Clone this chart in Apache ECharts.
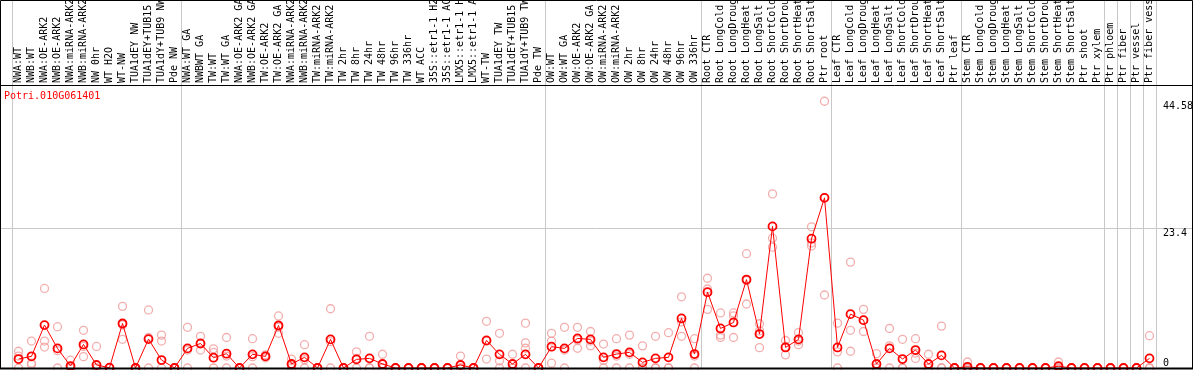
<!DOCTYPE html>
<html><head><meta charset="utf-8">
<script src="https://cdn.jsdelivr.net/npm/echarts@6/dist/echarts.min.js"></script>
<style>html,body{margin:0;padding:0;background:#fff}#c{width:1194px;height:370px}</style>
</head><body><div id="c"></div><script>
const categories = [
 'NWA:WT','NWB:WT','NWA:OE-ARK2','NWB:OE-ARK2','NWA:miRNA-ARK2','NWB:miRNA-ARK2','NW 0hr','WT H2O','WT-NW','TUA1dEY NW','TUA1dEY+TUB15 NW','TUA1dY+TUB9 NW','Pde NW',
 'NWA:WT GA','NWBWT GA','TW:WT','TW:WT GA','NWA:OE-ARK2 GA','NWB:OE-ARK2 GA','TW:OE-ARK2','TW:OE-ARK2 GA','NWA:miRNA-ARK2 GA','NWB:miRNA-ARK2 GA','TW:miRNA-ARK2','TW:miRNA-ARK2 GA','TW 2hr','TW 8hr','TW 24hr','TW 48hr','TW 96hr','TW 336hr','WT ACC','35S::etr1-1 H2O','35S::etr1-1 ACC','LMX5::etr1-1 H2O','LMX5::etr1-1 ACC','WT-TW','TUA1dEY TW','TUA1dEY+TUB15 TW','TUA1dY+TUB9 TW','Pde TW',
 'OW:WT','OW:WT GA','OW:OE-ARK2','OW:OE-ARK2 GA','OW:miRNA-ARK2','OW:miRNA-ARK2 GA','OW 2hr','OW 8hr','OW 24hr','OW 48hr','OW 96hr','OW 336hr',
 'Root CTR','Root LongCold','Root LongDrought','Root LongHeat','Root LongSalt','Root ShortCold','Root ShortDrought','Root ShortHeat','Root ShortSalt','Ptr root',
 'Leaf CTR','Leaf LongCold','Leaf LongDrought','Leaf LongHeat','Leaf LongSalt','Leaf ShortCold','Leaf ShortDrought','Leaf ShortHeat','Leaf ShortSalt','Ptr leaf',
 'Stem CTR','Stem LongCold','Stem LongDrought','Stem LongHeat','Stem LongSalt','Stem ShortCold','Stem ShortDrought','Stem ShortHeat','Stem ShortSalt','Ptr shoot',
 'Ptr xylem','Ptr phloem','Ptr fiber','Ptr vessel','Ptr fiber vessel'
];
const means = [
 1.5,1.95,7.17,3.28,0.33,3.94,0.5,0.05,7.44,0,4.83,1.33,0,
 3.28,4.1,1.72,2.39,0,2.28,1.94,7.1,0.67,1.78,0,4.78,0,1.44,1.61,0.67,0,0,0,0,0,0.5,0,4.61,2.28,0.67,2.28,0,
 3.56,3.28,4.94,4.78,1.78,2.33,2.61,0.94,1.61,1.78,8.28,2.33,
 12.67,6.61,7.61,14.78,5.67,23.67,3.44,4.78,21.61,28.44,
 3.44,9.0,8.0,0.67,3.28,1.5,3.0,0.67,2.11,0,
 0.2,0,0,0,0,0,0,0.3,0,0,
 0,0,0,0,1.61
];
const replicates = [
 [2.8,2.0,0],[4.5,0.8,0.6],[13.3,4.5,3.5],[6.9,2.9,0],[1.3,0,0],[6.3,3.6,1.9],[3.6,0,0],[0,0,0],[10.3,7.2,4.8],[0,0,0],[9.7,5.1,0],[5.5,4.5,0],[0,0,0],
 [6.8,3.0,0],[5.3,4.0,3.0],[3.2,2.6,0],[5.1,2.0,0],[0,0,0],[4.9,1.9,0],[2.2,2.0,1.7],[8.7,6.8,5.8],[1.5,0.5,0],[3.9,1.4,0],[0,0,0],[9.9,4.4,0],[0,0,0],[2.7,1.6,0],[5.3,0,0],[2.3,0,0],[0,0,0],[0,0,0],[0,0,0],[0,0,0],[0,0,0],[2.0,0,0],[0,0,0],[7.8,4.5,1.5],[5.8,1.2,0],[2.3,0,0],[7.5,4.2,3.3,0],[0,0,0],
 [5.8,4.5,0.8],[6.8,3.0,0],[6.8,4.7,3.3],[6.1,4.5,3.7],[4.0,1.3,0],[4.9,2.0,0],[5.5,2.3,0],[3.7,0,0],[5.3,0,0],[5.9,0,0],[11.9,7.7,5.3],[4.9,2.0,0],
 [15.0,13.2,9.8],[9.2,5.5,5.1],[9.2,8.7,5.1],[19.1,14.6,10.7],[7.4,6.2,3.4],[29.1,21.7,20.2],[4.6,3.6,2.2],[5.9,4.5,3.9],[23.6,20.9,20.4],[44.58,28.5,12.2],
 [7.5,2.7,0],[17.7,6.3,2.8],[9.8,8.0,6.1],[2.4,0,0],[6.6,3.7,0],[4.8,0,0],[4.9,2.5,1.6],[2.3,0,0],[7.0,0,0],[0,0,0],
 [1.0,0,0],[0,0,0],[0,0,0],[0,0,0],[0,0,0],[0,0,0],[0,0,0],[1.0,0,0],[0,0,0],[0,0,0],
 [0,0,0],[0,0,0],[0,0,0],[0,0,0],[5.4,0,0]
];
const groupStarts = [0,13,41,53,63,73,84,85,86,87];
const yLabelValues = [23.4, 44.58];
const yZeroLabel = [0];
const yGridValues = [23.4];
const yMax = 47.3;
const chartTitle = 'Potri.010G061401';

const repPoints = [];
replicates.forEach((arr, i) => arr.forEach(v => repPoints.push([i, v])));

const FONT = 'DejaVu Sans Mono';
const chart = echarts.init(document.getElementById('c'), null, {renderer: 'canvas'});
chart.setOption({
  animation: false,
  title: {text: chartTitle, left: 4, top: 91, padding: 0, z: 20,
    textStyle: {color: '#ff0000', fontFamily: FONT, fontSize: 10, fontWeight: 'normal'}},
  grid: [
    {left: 12, right: 38, top: 85, bottom: 2, containLabel: false, outerBoundsMode: 'none'},
    {left: 12, right: 38, top: 0, bottom: 2, containLabel: false, outerBoundsMode: 'none'},
    {left: 0, right: 1, top: 85, bottom: 2, containLabel: false, outerBoundsMode: 'none'}
  ],
  xAxis: [
    {gridIndex: 0, type: 'category', data: categories, position: 'top', boundaryGap: true,
      axisLine: {show: false}, axisTick: {show: false}, splitLine: {show: false},
      axisLabel: {interval: 0, rotate: 90, margin: 2, hideOverlap: false, fontFamily: FONT, fontSize: 10, color: '#000'}},
    {gridIndex: 1, type: 'category', data: categories, boundaryGap: true,
      axisLine: {show: false}, axisTick: {show: false}, axisLabel: {show: false},
      splitLine: {show: true, interval: (i) => groupStarts.indexOf(i) >= 0, lineStyle: {color: '#c8c8c8', width: 1}}},
    {gridIndex: 2, type: 'value', show: false}
  ],
  yAxis: [
    {gridIndex: 0, type: 'value', min: 0, max: yMax, position: 'right',
      axisLine: {show: false}, axisTick: {show: false}, splitLine: {show: false},
      axisLabel: {customValues: yLabelValues, verticalAlign: 'top', align: 'left', margin: 7,
        fontFamily: FONT, fontSize: 10, color: '#000', formatter: v => String(v)}},
    {gridIndex: 0, type: 'value', min: 0, max: yMax, position: 'right',
      axisLine: {show: false}, axisTick: {show: false}, splitLine: {show: false},
      axisLabel: {customValues: yZeroLabel, verticalAlign: 'bottom', align: 'left', margin: 7,
        fontFamily: FONT, fontSize: 10, color: '#000', formatter: v => String(v)}},
    {gridIndex: 1, type: 'value', show: false},
    {gridIndex: 2, type: 'value', min: 0, max: yMax,
      axisLine: {show: false}, axisTick: {show: false, customValues: yGridValues}, axisLabel: {show: false},
      splitLine: {show: true, lineStyle: {color: '#c8c8c8', width: 1}}}
  ],
  series: [
    {type: 'scatter', xAxisIndex: 0, yAxisIndex: 0, data: repPoints, symbol: 'circle', symbolSize: 8,
      itemStyle: {color: 'rgba(0,0,0,0)', borderColor: '#f09a9a', borderWidth: 1.3}, z: 3, silent: true},
    {type: 'line', xAxisIndex: 0, yAxisIndex: 0, data: means, symbol: 'circle', symbolSize: 8,
      showAllSymbol: true, lineStyle: {color: '#ff0000', width: 1},
      itemStyle: {color: 'rgba(0,0,0,0)', borderColor: '#ff0000', borderWidth: 1.8}, z: 4, silent: true}
  ],
  graphic: [
    {type: 'rect', shape: {x: 0.5, y: 0.5, width: 1192, height: 368}, style: {fill: null, stroke: '#000', lineWidth: 1}, z: 10, silent: true},
    {type: 'line', shape: {x1: 0, y1: 85.5, x2: 1193, y2: 85.5}, style: {stroke: '#000', lineWidth: 1}, z: 10, silent: true},
    {type: 'line', shape: {x1: 0, y1: 368.5, x2: 1193, y2: 368.5}, style: {stroke: '#000', lineWidth: 2}, z: 10, silent: true}
  ]
});
</script></body></html>
